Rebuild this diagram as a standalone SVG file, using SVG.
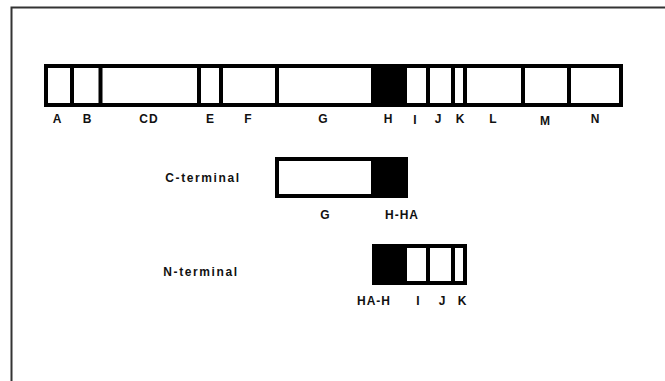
<svg xmlns="http://www.w3.org/2000/svg" width="665" height="381" viewBox="0 0 665 381">
<style>
.box{fill:#fff;stroke:#000;stroke-width:4}
.blk{fill:#000}
.div{stroke:#000;stroke-width:4}
.lbl{font-family:"Liberation Sans",Arial,sans-serif;font-weight:bold;font-size:12px;fill:#111;text-anchor:middle}
.ttl{font-family:"Liberation Sans",Arial,sans-serif;font-weight:bold;font-size:12px;fill:#111;letter-spacing:1.6px;text-anchor:middle}
</style>
<rect width="665" height="381" fill="#fff"/>
<path d="M11.5 381 V7.5 H665" fill="none" stroke="#333" stroke-width="2"/>
<g id="full-protein">
<rect class="box" x="46" y="66" width="575" height="39"/>
<rect class="blk" x="371" y="66" width="36" height="39"/>
<path class="div" d="M72 66V105M100.5 66V105M199 66V105M221 66V105M277 66V105M428 66V105M453 66V105M465 66V105M523 66V105M569 66V105"/>
<text class="lbl" x="57" y="123">A</text>
<text class="lbl" x="87" y="123">B</text>
<text class="lbl" x="149" y="123" letter-spacing="1">CD</text>
<text class="lbl" x="210" y="123">E</text>
<text class="lbl" x="248" y="123">F</text>
<text class="lbl" x="323" y="123">G</text>
<text class="lbl" x="388" y="123">H</text>
<text class="lbl" x="415" y="124">I</text>
<text class="lbl" x="438" y="123">J</text>
<text class="lbl" x="460" y="123">K</text>
<text class="lbl" x="493" y="123">L</text>
<text class="lbl" x="545" y="125">M</text>
<text class="lbl" x="595" y="123">N</text>
</g>
<g id="c-terminal">
<text class="ttl" x="203" y="182">C-terminal</text>
<rect class="box" x="277" y="159" width="129" height="37"/>
<rect class="blk" x="371" y="159" width="37" height="37"/>
<text class="lbl" x="325" y="219">G</text>
<text class="lbl" x="402" y="219" letter-spacing="1">H-HA</text>
</g>
<g id="n-terminal">
<text class="ttl" x="201" y="276">N-terminal</text>
<rect class="box" x="374" y="246" width="91" height="37"/>
<rect class="blk" x="372" y="244" width="35" height="41"/>
<path class="div" d="M428 246V283M453 246V283"/>
<text class="lbl" x="374" y="305" letter-spacing="1">HA-H</text>
<text class="lbl" x="418" y="305">I</text>
<text class="lbl" x="442" y="305">J</text>
<text class="lbl" x="462" y="305">K</text>
</g>
</svg>
